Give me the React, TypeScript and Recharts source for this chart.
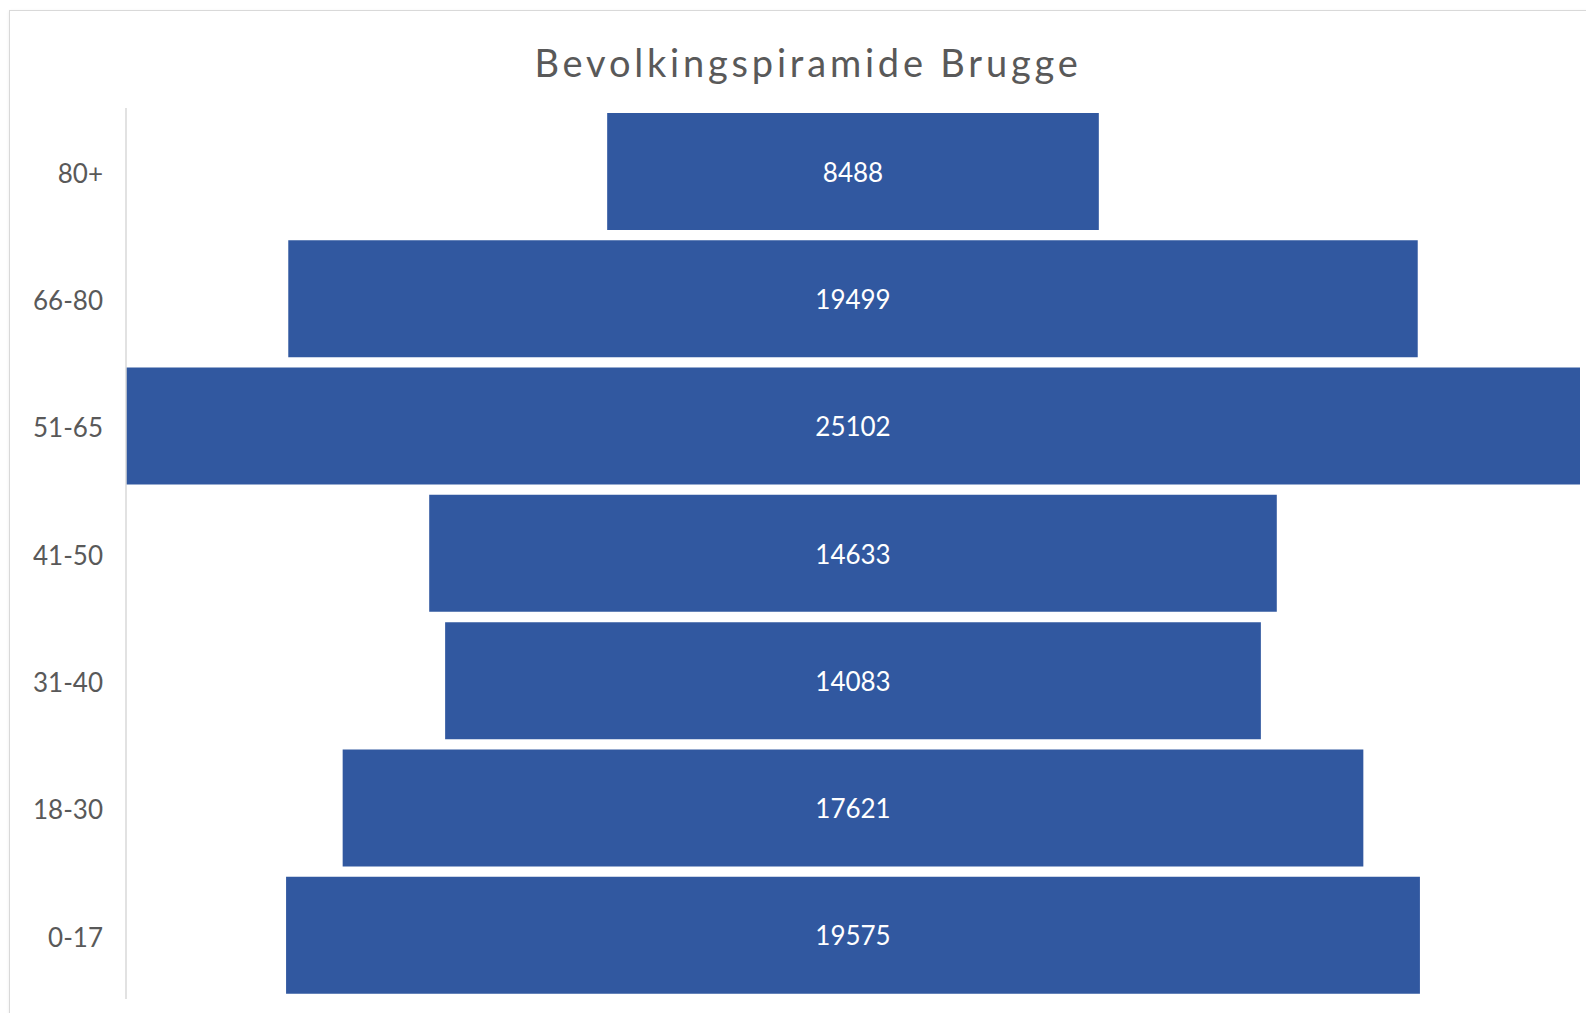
import React from "react";
import { BarChart, Bar, XAxis, YAxis, LabelList } from "recharts";

const ageGroups = ["80+", "66-80", "51-65", "41-50", "31-40", "18-30", "0-17"];
const population = [8488, 19499, 25102, 14633, 14083, 17621, 19575];

const maxValue = Math.max(...population);
const data = ageGroups.map((age, i) => ({
  age,
  offset: (maxValue - population[i]) / 2,
  value: population[i],
}));

const FONT = "Lato, 'Open Sans', sans-serif";

export default function App() {
  return (
    <div
      style={{
        position: "fixed",
        left: 0,
        top: 0,
        width: 1586,
        height: 1013,
        overflow: "hidden",
        background: "#ffffff",
      }}
    >
      <div
        style={{
          position: "absolute",
          left: 9,
          top: 10,
          width: 1650,
          height: 1100,
          border: "1px solid #d9d9d9",
          boxShadow: "0 1px 3px rgba(0,0,0,0.08)",
        }}
      />
      <div
        style={{
          position: "absolute",
          left: 808,
          top: 43,
          transform: "translateX(-50%)",
          whiteSpace: "nowrap",
          fontFamily: FONT,
          fontSize: 38,
          letterSpacing: 3.8,
          lineHeight: 1,
          color: "#595959",
        }}
      >
        Bevolkingspiramide Brugge
      </div>
      <div style={{ position: "absolute", left: 0, top: 0 }}>
        <BarChart
          width={1586}
          height={1013}
          data={data}
          layout="vertical"
          margin={{ top: 108, right: 6, bottom: 14, left: 0 }}
          barCategoryGap={5}
        >
          <XAxis type="number" domain={[0, maxValue]} hide />
          <YAxis
            type="category"
            dataKey="age"
            width={126}
            axisLine={{ stroke: "#d9d9d9", strokeWidth: 1.5 }}
            tickLine={false}
            tickSize={0}
            tickMargin={23}
            tick={{ fill: "#595959", fontSize: 26, fontFamily: FONT, dy: 2 }}
          />
          <Bar
            dataKey="offset"
            stackId="a"
            fill="transparent"
            isAnimationActive={false}
          />
          <Bar dataKey="value" stackId="a" fill="#3158a0" isAnimationActive={false}>
            <LabelList
              dataKey="value"
              position="center"
              fill="#ffffff"
              style={{ fontSize: 26, fontFamily: FONT }}
              dy={1}
            />
          </Bar>
        </BarChart>
      </div>
    </div>
  );
}
